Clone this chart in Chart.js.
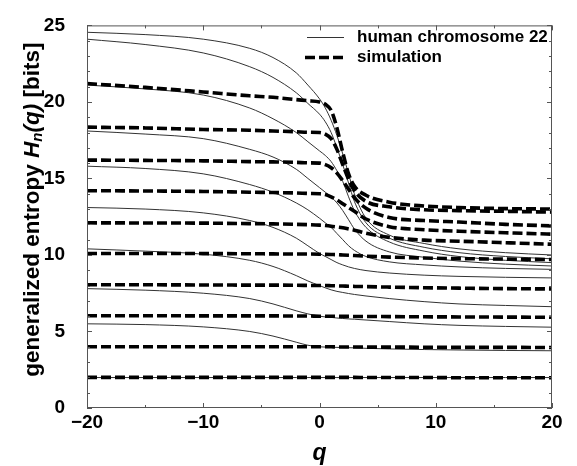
<!DOCTYPE html>
<html><head><meta charset="utf-8">
<script src="https://cdn.jsdelivr.net/npm/chart.js@4.4.1/dist/chart.umd.min.js"></script>
<style>html,body{margin:0;padding:0;background:#fff}</style>
</head><body>
<canvas id="chart" width="577" height="466"></canvas>
<script>
// q values shared by every curve
const qGrid=[-20,-15,-10,-6,-4,-2,-1,0,0.5,1,1.5,2,2.5,3,4,6,9,12,16,20];

// human chromosome 22 (solid), one list per block length
const chrN10=[24.55,24.4,24.1,23.5,22.9,21.9,21.1,20.2,19.6,18.8,17.8,16.6,15.3,14.0,12.4,11.3,10.75,10.4,10.15,10.0];
const chrN9=[24.1,23.75,23.2,22.3,21.6,20.6,19.9,19.2,18.7,18.0,17.0,15.9,14.7,13.5,12.1,11.1,10.5,10.15,9.9,9.75];
const chrN8=[21.1,20.85,20.45,19.6,18.9,18.0,17.4,16.8,16.5,16.1,15.5,14.8,13.8,12.9,11.8,10.85,10.25,9.9,9.65,9.5];
const chrN7=[18.1,17.9,17.6,16.9,16.4,15.6,15.0,14.4,14.1,13.8,13.4,12.9,12.3,11.7,10.9,10.2,9.85,9.6,9.4,9.28];
const chrN6=[15.8,15.65,15.3,14.6,14.1,13.4,12.95,12.4,12.1,11.8,11.4,11.0,10.6,10.3,9.9,9.55,9.35,9.22,9.12,9.06];
const chrN5=[13.1,13.0,12.75,12.25,11.8,11.1,10.6,10.1,9.9,9.7,9.5,9.35,9.22,9.12,8.98,8.82,8.68,8.6,8.54,8.5];
const chrN4=[10.4,10.25,10.05,9.65,9.25,8.65,8.3,8.0,7.85,7.72,7.62,7.55,7.48,7.42,7.32,7.15,6.95,6.8,6.7,6.62];
const chrN3=[7.8,7.7,7.5,7.15,6.8,6.35,6.15,6.0,5.95,5.92,5.88,5.85,5.82,5.8,5.75,5.65,5.5,5.4,5.33,5.28];
const chrN2=[5.5,5.45,5.3,5.0,4.7,4.3,4.1,4.0,3.98,3.97,3.96,3.95,3.94,3.93,3.9,3.86,3.82,3.79,3.76,3.74];
const chrN1=[1.99,1.99,1.99,1.99,1.99,1.99,1.99,1.99,1.99,1.99,1.99,1.99,1.99,1.99,1.99,1.99,1.99,1.99,1.99,1.99];

// simulation (dashed)
const simN10=[21.2,20.95,20.65,20.4,20.3,20.15,20.08,20.0,19.85,19.45,18.3,16.7,15.3,14.5,13.9,13.45,13.2,13.1,13.03,13.0];
const simN9=[18.35,18.3,18.2,18.15,18.1,18.05,18.02,18.0,17.9,17.6,16.9,15.9,14.95,14.2,13.5,13.15,12.95,12.9,12.85,12.8];
const simN8=[16.2,16.18,16.15,16.1,16.08,16.05,16.02,16.0,15.9,15.7,15.35,14.85,14.3,13.75,13.05,12.45,12.25,12.15,12.0,11.9];
const simN7=[14.2,14.18,14.15,14.1,14.08,14.05,14.02,14.0,13.95,13.8,13.6,13.35,13.1,12.85,12.35,11.85,11.65,11.55,11.45,11.36];
const simN6=[12.1,12.09,12.08,12.05,12.03,12.0,11.98,11.95,11.92,11.88,11.83,11.78,11.7,11.62,11.42,11.15,10.97,10.9,10.8,10.7];
const simN5=[10.1,10.1,10.09,10.08,10.07,10.06,10.06,10.05,10.04,10.03,10.02,10.0,9.98,9.96,9.92,9.86,9.8,9.76,9.73,9.7];
const simN4=[8.05,8.05,8.04,8.03,8.03,8.02,8.01,8.0,8.0,7.99,7.98,7.97,7.96,7.95,7.93,7.9,7.86,7.83,7.8,7.78];
const simN3=[6.03,6.03,6.02,6.02,6.02,6.01,6.01,6.0,6.0,6.0,5.99,5.99,5.99,5.98,5.98,5.97,5.96,5.95,5.94,5.93];
const simN2=[4.0,4.0,4.0,4.0,4.0,4.0,4.0,4.0,4.0,4.0,3.99,3.99,3.99,3.99,3.98,3.98,3.97,3.96,3.96,3.95];
const simN1=[2.0,2.0,2.0,2.0,2.0,2.0,2.0,2.0,2.0,2.0,2.0,2.0,2.0,2.0,1.99,1.99,1.99,1.98,1.98,1.98];

const xTickLabels=[-20,-10,0,10,20];
const yTickLabels=[0,5,10,15,20,25];
const legendLabels=['human chromosome 22','simulation'];

const FONT="'Liberation Sans', Arial, Helvetica, sans-serif";
const pts=arr=>arr.map((h,i)=>({x:qGrid[i],y:h}));
const chrSets=[chrN1,chrN2,chrN3,chrN4,chrN5,chrN6,chrN7,chrN8,chrN9,chrN10];
const simSets=[simN1,simN2,simN3,simN4,simN5,simN6,simN7,simN8,simN9,simN10];

const datasets=[
  ...simSets.map(s=>({data:pts(s),borderColor:'#000',borderWidth:3.6,borderDash:[10,4],order:0})),
  ...chrSets.map(s=>({data:pts(s),borderColor:'#333',borderWidth:1,order:1}))
];

// frame with inward ticks on all four sides
const frame={id:'frame',afterDatasetsDraw(chart){
  const {ctx,chartArea:a,scales:{x,y}}=chart;
  ctx.save();ctx.strokeStyle='#555';ctx.lineWidth=1;ctx.setLineDash([]);
  ctx.strokeRect(a.left+0.5,a.top+0.5,a.right-a.left-1,a.bottom-a.top-1);
  ctx.beginPath();
  for(let q=-20;q<=20;q+=5){
    const px=Math.round(x.getPixelForValue(q))+0.5, l=q%10===0?5:3;
    ctx.moveTo(px,a.bottom);ctx.lineTo(px,a.bottom-l);
    ctx.moveTo(px,a.top);ctx.lineTo(px,a.top+l);
  }
  for(let h=0;h<=25;h++){
    const py=Math.round(y.getPixelForValue(h))+0.5, l=h%5===0?5:3;
    ctx.moveTo(a.left,py);ctx.lineTo(a.left+l,py);
    ctx.moveTo(a.right,py);ctx.lineTo(a.right-l,py);
  }
  ctx.stroke();ctx.restore();
}};

// legend inside the plot, top right
const legendBox={id:'legendBox',afterDraw(chart){
  const ctx=chart.ctx;
  ctx.save();
  ctx.strokeStyle='#333';ctx.lineWidth=1;ctx.setLineDash([]);
  ctx.beginPath();ctx.moveTo(307,37.5);ctx.lineTo(344,37.5);ctx.stroke();
  ctx.strokeStyle='#000';ctx.lineWidth=3.6;ctx.setLineDash([10,4]);
  ctx.beginPath();ctx.moveTo(305,57.5);ctx.lineTo(345,57.5);ctx.stroke();
  ctx.setLineDash([]);
  ctx.fillStyle='#000';ctx.font='bold 17px '+FONT;ctx.textBaseline='middle';
  ctx.fillText(legendLabels[0],357,37);
  ctx.fillText(legendLabels[1],357,57);
  ctx.restore();
}};

// y axis title with italic H_n(q)
const yTitle={id:'yTitle',afterDraw(chart){
  const ctx=chart.ctx,a=chart.chartArea;
  const segs=[
    {t:'generalized entropy ',f:'bold 22.5px '+FONT,dy:0},
    {t:'H',f:'italic bold 22.5px '+FONT,dy:0},
    {t:'n',f:'italic bold 15px '+FONT,dy:5},
    {t:'(q)',f:'italic bold 22.5px '+FONT,dy:0},
    {t:' [bits]',f:'bold 22.5px '+FONT,dy:0}
  ];
  ctx.save();
  let total=0;segs.forEach(s=>{ctx.font=s.f;s.w=ctx.measureText(s.t).width;total+=s.w;});
  ctx.translate(33,(a.top+a.bottom)/2-7);ctx.rotate(-Math.PI/2);
  ctx.fillStyle='#000';ctx.textBaseline='middle';
  let cx=-total/2;
  segs.forEach(s=>{ctx.font=s.f;ctx.fillText(s.t,cx,s.dy);cx+=s.w;});
  ctx.restore();
}};

const fmt=v=>v<0?'\u2212'+Math.abs(v):String(v);

new Chart(document.getElementById('chart'),{
  type:'line',
  data:{datasets},
  options:{
    responsive:false,animation:false,devicePixelRatio:1,
    layout:{padding:{left:0,right:25,top:20,bottom:0}},
    plugins:{legend:{display:false},tooltip:{enabled:false}},
    elements:{point:{radius:0},line:{cubicInterpolationMode:'monotone',borderCapStyle:'butt'}},
    scales:{
      x:{type:'linear',min:-20,max:20,
        grid:{display:false},border:{display:false},
        afterBuildTicks:s=>{s.ticks=xTickLabels.map(v=>({value:v}));},
        ticks:{font:{family:FONT,size:19,weight:'bold'},color:'#000',padding:-5,maxRotation:0,callback:fmt},
        title:{display:true,text:'q',font:{family:FONT,size:23,weight:'bold',style:'italic'},color:'#000',padding:{top:0,bottom:-1}},
        afterFit:s=>{s.height=58;}},
      y:{type:'linear',min:0,max:25,
        grid:{display:false},border:{display:false},
        afterBuildTicks:s=>{s.ticks=yTickLabels.map(v=>({value:v}));},
        ticks:{font:{family:FONT,size:19,weight:'bold'},color:'#000',padding:14},
        afterFit:s=>{s.width=87;}}
    }
  },
  plugins:[frame,legendBox,yTitle]
});
</script>
</body></html>
